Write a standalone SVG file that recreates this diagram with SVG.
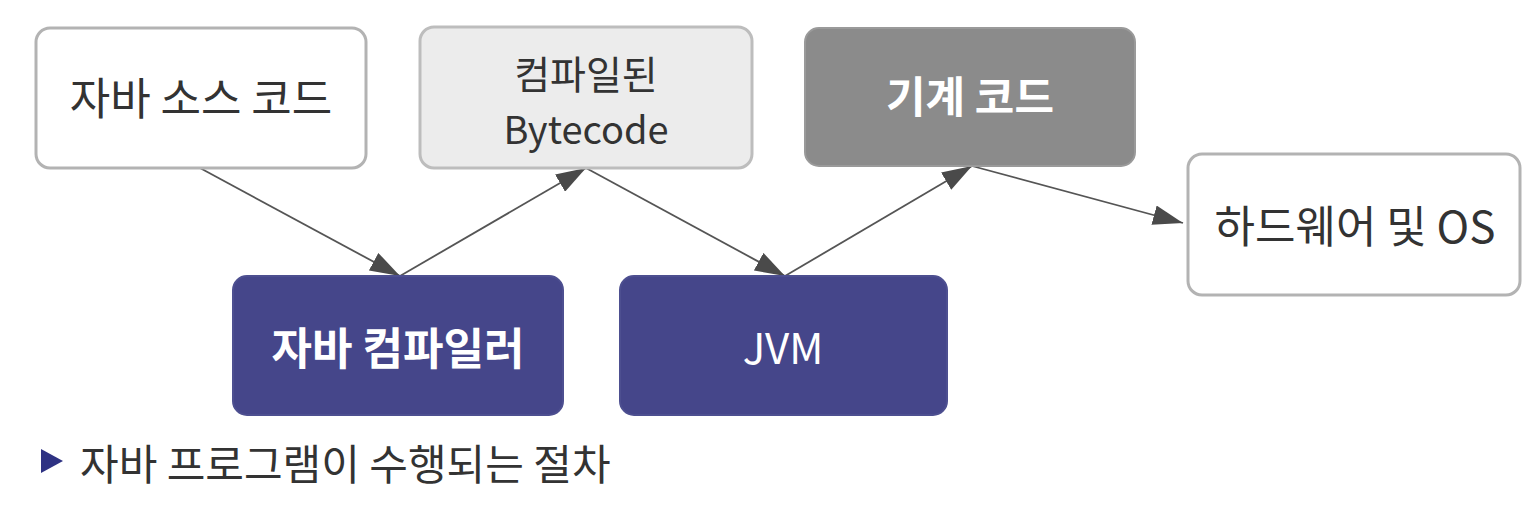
<svg xmlns="http://www.w3.org/2000/svg" width="1540" height="510" viewBox="0 0 1540 510">
<defs>
<style>
.lt{fill:#ffffff;stroke:#b3b3b3;stroke-width:3}
.lg{fill:#ececec;stroke:#bdbdbd;stroke-width:3}
.dg{fill:#8b8b8b;stroke:#9a9a9a;stroke-width:2}
.nv{fill:#45468a;stroke:#4d4f90;stroke-width:2}
.t{font-family:"Noto Sans CJK KR","Noto Sans",sans-serif;font-size:44px;text-anchor:middle;fill:#333333}
.w{fill:#ffffff;font-weight:bold}
.c{stroke:#555555;stroke-width:1.8;fill:none;marker-end:url(#ah)}
</style>
<marker id="ah" markerUnits="userSpaceOnUse" markerWidth="30" markerHeight="20" refX="30" refY="10" orient="auto" viewBox="0 0 30 20">
<path d="M0,0 L30,10 L0,20 z" fill="#4a4a4a"/>
</marker>
</defs>
<rect width="1540" height="510" fill="#ffffff"/>
<g id="connectors">
<line class="c" x1="200" y1="168" x2="400" y2="276"/>
<line class="c" x1="400" y1="276" x2="586" y2="168"/>
<line class="c" x1="586" y1="168" x2="785" y2="276"/>
<line class="c" x1="785" y1="276" x2="972" y2="166"/>
<line class="c" x1="972" y1="166" x2="1183" y2="223"/>
</g>
<g id="source">
<rect class="lt" x="36" y="28" width="330" height="140" rx="14"/>
<text class="t" x="201" y="115">자바 소스 코드</text>
</g>
<g id="bytecode">
<rect class="lg" x="420" y="27" width="332" height="141" rx="14"/>
<text class="t" x="586" y="89" style="font-size:39px">컴파일된</text>
<text class="t" x="586" y="144" style="font-size:38px">Bytecode</text>
</g>
<g id="machine">
<rect class="dg" x="805" y="28" width="330" height="138" rx="14"/>
<text class="t w" x="970" y="113" style="font-size:43px">기계 코드</text>
</g>
<g id="hardware">
<rect class="lt" x="1188" y="154" width="332" height="141" rx="14"/>
<text class="t" x="1355" y="243">하드웨어 및 OS</text>
</g>
<g id="compiler">
<rect class="nv" x="233" y="276" width="330" height="139" rx="14"/>
<text class="t w" x="398" y="365">자바 컴파일러</text>
</g>
<g id="jvm">
<rect class="nv" x="620" y="276" width="327" height="139" rx="14"/>
<text class="t" x="783" y="364" style="fill:#ffffff;font-size:42px">JVM</text>
</g>
<g id="caption">
<path d="M41,449 L63,461 L41,473 z" fill="#2e3283"/>
<text class="t" x="80" y="480" style="text-anchor:start;font-size:42px">자바 프로그램이 수행되는 절차</text>
</g>
</svg>
